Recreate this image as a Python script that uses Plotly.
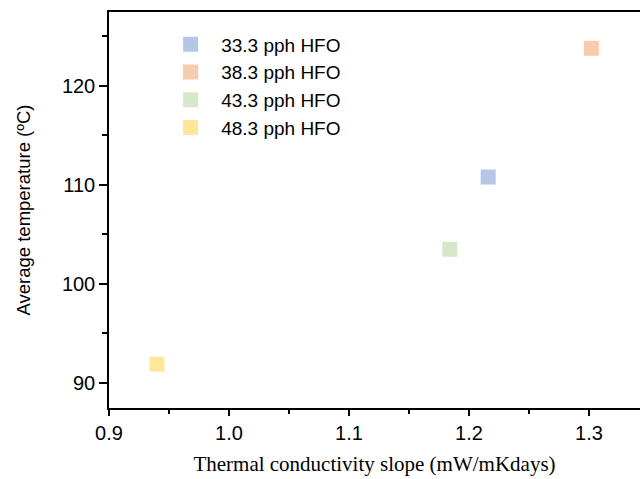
import plotly.graph_objects as go

# Slope of thermal conductivity vs. average temperature for each HFO loading
labels = ["33.3 pph HFO", "38.3 pph HFO", "43.3 pph HFO", "48.3 pph HFO"]
slope = [1.216, 1.302, 1.184, 0.940]
avg_temp = [110.8, 123.8, 103.5, 91.9]
colors = ["#b4c7e7", "#f8cbad", "#d5e8c9", "#ffe699"]

fig = go.Figure()
for name, x, y, c in zip(labels, slope, avg_temp, colors):
    fig.add_trace(go.Scatter(
        x=[x], y=[y], mode="markers", name="\u00a0\u00a0" + name,
        marker=dict(symbol="square", size=15, color=c, line=dict(width=0)),
    ))

axis_font = dict(family="Arial, Liberation Sans, sans-serif", size=20, color="#000")

fig.update_layout(
    width=640, height=479,
    margin=dict(l=109, r=0, t=12, b=71),
    plot_bgcolor="white", paper_bgcolor="white",
    legend=dict(x=0.116, y=0.966, xanchor="left", yanchor="top",
                font=dict(family="Arial, Liberation Sans, sans-serif", size=19, color="#000"),
                bgcolor="rgba(0,0,0,0)", itemsizing="trace", tracegroupgap=0),
    xaxis=dict(
        range=[0.9, 1.3425], tickvals=[0.9, 1.0, 1.1, 1.2, 1.3],
        ticktext=["0.9", "1.0", "1.1", "1.2", "1.3"],
        ticks="outside", ticklen=6, tickwidth=1.5, tickcolor="#000",
        minor=dict(tickvals=[0.95, 1.05, 1.15, 1.25], ticks="outside", ticklen=4, tickcolor="#000", tickwidth=1.5),
        showline=True, linecolor="#000", linewidth=1.5, mirror=True,
        showgrid=False, zeroline=False, tickfont=axis_font,
        title=dict(text="Thermal conductivity slope (mW/mKdays)",
                   font=dict(family="Liberation Serif, Times New Roman, serif", size=21, color="#000"),
                   standoff=14),
    ),
    yaxis=dict(
        range=[87.47, 127.47], tickvals=[90, 100, 110, 120],
        ticks="outside", ticklen=8, tickwidth=1.5, tickcolor="#000",
        minor=dict(tickvals=[95, 105, 115, 125], ticks="outside", ticklen=5, tickcolor="#000", tickwidth=1.5),
        showline=True, linecolor="#000", linewidth=1.5,
        showgrid=False, zeroline=False, tickfont=axis_font,
        title=dict(text="Average temperature (ºC)",
                   font=dict(family="Arial, Liberation Sans, sans-serif", size=18.5, color="#000"),
                   standoff=26),
    ),
)

fig.write_html("out.html")
